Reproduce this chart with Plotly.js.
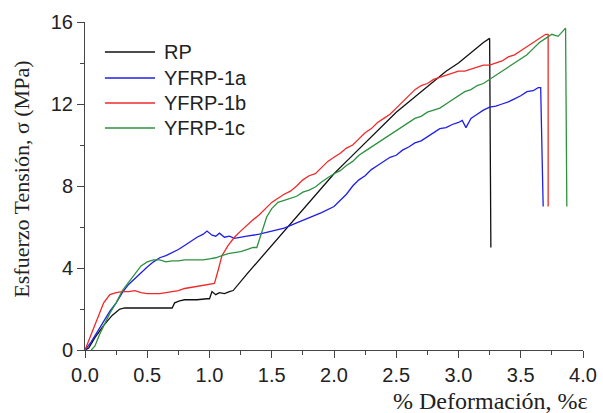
<!DOCTYPE html>
<html>
<head>
<meta charset="utf-8">
<script src="https://cdn.plot.ly/plotly-3.0.1.min.js"></script>
<style>html,body{margin:0;padding:0;background:#fff;}#chart{width:603px;height:413px;}</style>
</head>
<body>
<div id="chart"></div>
<script>
const seriesNames = ["RP", "YFRP-1a", "YFRP-1b", "YFRP-1c"];

const rpX = [0, 0.03, 0.08, 0.15, 0.22, 0.28, 0.32, 0.5, 0.7, 0.72, 0.76, 0.8, 0.9, 0.98, 1.0, 1.02, 1.05, 1.08, 1.12, 1.16, 1.19, 1.3, 1.4, 1.5, 1.6, 1.7, 1.8, 1.9, 2.0, 2.1, 2.2, 2.3, 2.4, 2.5, 2.6, 2.7, 2.8, 2.9, 3.0, 3.1, 3.2, 3.25, 3.26];
const rpY = [0, 0.1, 0.6, 1.2, 1.7, 2.0, 2.05, 2.05, 2.05, 2.3, 2.4, 2.45, 2.45, 2.5, 2.5, 2.85, 2.7, 2.8, 2.75, 2.85, 2.9, 3.7, 4.4, 5.1, 5.8, 6.5, 7.2, 7.9, 8.6, 9.2, 9.8, 10.4, 11.0, 11.6, 12.1, 12.6, 13.1, 13.6, 14.0, 14.5, 15.0, 15.2, 5.0];

const aX = [0, 0.05, 0.1, 0.15, 0.2, 0.25, 0.3, 0.35, 0.4, 0.45, 0.5, 0.55, 0.6, 0.65, 0.7, 0.75, 0.8, 0.85, 0.9, 0.95, 0.98, 1.02, 1.05, 1.08, 1.12, 1.16, 1.2, 1.3, 1.4, 1.5, 1.6, 1.7, 1.8, 1.9, 2.0, 2.05, 2.1, 2.15, 2.2, 2.25, 2.3, 2.35, 2.4, 2.45, 2.5, 2.55, 2.6, 2.65, 2.7, 2.75, 2.8, 2.85, 2.9, 2.95, 3.0, 3.03, 3.06, 3.1, 3.15, 3.2, 3.25, 3.3, 3.35, 3.4, 3.45, 3.5, 3.55, 3.6, 3.64, 3.66, 3.68];
const aY = [0, 0.4, 0.9, 1.4, 1.9, 2.3, 2.8, 3.2, 3.5, 3.8, 4.05, 4.3, 4.5, 4.6, 4.75, 4.9, 5.1, 5.3, 5.5, 5.65, 5.8, 5.6, 5.55, 5.7, 5.5, 5.55, 5.45, 5.55, 5.65, 5.8, 5.95, 6.2, 6.45, 6.7, 7.0, 7.3, 7.6, 8.0, 8.3, 8.5, 8.8, 9.0, 9.2, 9.4, 9.5, 9.75, 9.9, 10.1, 10.2, 10.4, 10.6, 10.8, 10.85, 11.0, 11.1, 11.2, 10.85, 11.3, 11.5, 11.7, 11.85, 11.9, 12.0, 12.1, 12.25, 12.4, 12.6, 12.65, 12.8, 12.8, 7.0];

const bX = [0, 0.05, 0.1, 0.15, 0.2, 0.25, 0.3, 0.35, 0.4, 0.45, 0.5, 0.55, 0.6, 0.65, 0.7, 0.75, 0.8, 0.85, 0.9, 0.95, 1.0, 1.04, 1.07, 1.1, 1.15, 1.2, 1.25, 1.3, 1.35, 1.4, 1.45, 1.5, 1.55, 1.6, 1.65, 1.7, 1.75, 1.8, 1.85, 1.9, 1.95, 2.0, 2.05, 2.1, 2.15, 2.2, 2.25, 2.3, 2.35, 2.4, 2.45, 2.5, 2.55, 2.6, 2.65, 2.7, 2.75, 2.8, 2.85, 2.9, 2.95, 3.0, 3.05, 3.1, 3.15, 3.2, 3.25, 3.3, 3.35, 3.4, 3.45, 3.5, 3.55, 3.6, 3.65, 3.7, 3.72, 3.72];
const bY = [0, 0.8, 1.6, 2.3, 2.7, 2.8, 2.85, 2.85, 2.9, 2.8, 2.75, 2.75, 2.75, 2.8, 2.85, 2.9, 3.0, 3.05, 3.1, 3.15, 3.2, 3.25, 3.9, 4.6, 5.1, 5.5, 5.8, 6.1, 6.35, 6.6, 6.9, 7.2, 7.4, 7.6, 7.75, 8.0, 8.3, 8.5, 8.6, 8.9, 9.2, 9.4, 9.6, 9.85, 10.0, 10.3, 10.6, 10.8, 11.1, 11.3, 11.5, 11.8, 12.1, 12.4, 12.7, 12.9, 13.0, 13.2, 13.3, 13.4, 13.5, 13.6, 13.6, 13.7, 13.8, 13.9, 13.9, 14.0, 14.1, 14.3, 14.4, 14.6, 14.8, 15.0, 15.2, 15.4, 15.4, 7.0];

const cX = [0.05, 0.08, 0.12, 0.15, 0.2, 0.25, 0.3, 0.35, 0.4, 0.45, 0.5, 0.55, 0.6, 0.65, 0.7, 0.75, 0.8, 0.85, 0.9, 0.95, 1.0, 1.05, 1.1, 1.15, 1.2, 1.25, 1.3, 1.35, 1.38, 1.42, 1.46, 1.5, 1.55, 1.6, 1.65, 1.7, 1.75, 1.8, 1.85, 1.9, 1.95, 2.0, 2.05, 2.1, 2.15, 2.2, 2.25, 2.3, 2.35, 2.4, 2.45, 2.5, 2.55, 2.6, 2.65, 2.7, 2.75, 2.8, 2.85, 2.9, 2.95, 3.0, 3.05, 3.1, 3.15, 3.2, 3.25, 3.3, 3.35, 3.4, 3.45, 3.5, 3.55, 3.6, 3.65, 3.7, 3.75, 3.8, 3.83, 3.86, 3.87];
const cY = [0, 0.2, 0.8, 1.2, 1.8, 2.3, 2.9, 3.3, 3.7, 4.1, 4.3, 4.4, 4.4, 4.3, 4.35, 4.35, 4.4, 4.4, 4.4, 4.4, 4.45, 4.5, 4.6, 4.7, 4.75, 4.8, 4.9, 5.0, 5.0, 5.8, 6.5, 6.9, 7.2, 7.3, 7.4, 7.5, 7.7, 7.8, 7.95, 8.2, 8.4, 8.6, 8.75, 9.0, 9.2, 9.5, 9.7, 9.9, 10.1, 10.3, 10.5, 10.7, 10.9, 11.1, 11.3, 11.4, 11.6, 11.7, 11.8, 12.0, 12.2, 12.4, 12.6, 12.7, 12.9, 13.0, 13.2, 13.4, 13.6, 13.8, 14.0, 14.2, 14.4, 14.7, 15.0, 15.2, 15.4, 15.3, 15.5, 15.7, 7.0];

const xTickVals = [0, 0.5, 1, 1.5, 2, 2.5, 3, 3.5, 4];
const xTickText = ["0.0", "0.5", "1.0", "1.5", "2.0", "2.5", "3.0", "3.5", "4.0"];
const yTickVals = [0, 4, 8, 12, 16];
const yTickText = ["0", "4", "8", "12", "16"];

const colors = ["#111111", "#1f1fe6", "#f02828", "#2e9140"];
const xs = [rpX, aX, bX, cX];
const ys = [rpY, aY, bY, cY];

const traces = seriesNames.map((n, i) => ({
  x: xs[i], y: ys[i], name: n, type: "scatter", mode: "lines",
  line: {color: colors[i], width: 1.3}, showlegend: false
}));

// legend drawn as shapes + text (longer sample lines like the original)
const legendRowsY = [0.9085, 0.8293, 0.7530, 0.6768];
const legendShapes = seriesNames.map((n, i) => ({
  type: "line", xref: "paper", yref: "paper", x0: 0.040, x1: 0.1406,
  y0: legendRowsY[i], y1: legendRowsY[i], line: {color: colors[i], width: 1.3}
}));
const legendTexts = seriesNames.map((n, i) => ({
  text: n, xref: "paper", yref: "paper", x: 0.1546, y: legendRowsY[i],
  xanchor: "left", yanchor: "middle", showarrow: false,
  font: {family: "Liberation Sans, Arial, sans-serif", size: 20, color: "#222"}
}));

const axisCommon = {
  showgrid: false, zeroline: false, showline: true, linecolor: "#444", linewidth: 1,
  ticks: "outside", ticklen: 7, tickwidth: 1, tickcolor: "#444",
  tickfont: {family: "Liberation Sans, Arial, sans-serif", size: 20, color: "#222"},
  minor: {ticks: "outside", ticklen: 4, tickwidth: 1, tickcolor: "#444"}
};

const layout = {
  width: 603, height: 413,
  margin: {l: 85, r: 20, t: 22, b: 63},
  paper_bgcolor: "#fff", plot_bgcolor: "#fff",
  showlegend: false,
  xaxis: Object.assign({}, axisCommon, {range: [0, 4], tickvals: xTickVals, ticktext: xTickText,
    minor: Object.assign({}, axisCommon.minor, {dtick: 0.25, tick0: 0})}),
  yaxis: Object.assign({}, axisCommon, {range: [0, 16], tickvals: yTickVals, ticktext: yTickText,
    minor: Object.assign({}, axisCommon.minor, {dtick: 2, tick0: 0})}),
  shapes: legendShapes,
  annotations: [
    {text: "% Deformación, %ε", xref: "paper", yref: "paper", x: 1.015, y: -0.155, xanchor: "right", yanchor: "middle",
      showarrow: false, font: {family: "Liberation Serif, Times New Roman, serif", size: 24, color: "#222"}},
    {text: "Esfuerzo Tensión, σ (MPa)", xref: "paper", yref: "paper", x: -0.128, y: 0.52, xanchor: "center", yanchor: "middle",
      textangle: -90, showarrow: false, font: {family: "Liberation Serif, Times New Roman, serif", size: 22, color: "#222"}}
  ].concat(legendTexts)
};

Plotly.newPlot("chart", traces, layout, {displayModeBar: false, staticPlot: true});
</script>
</body>
</html>
